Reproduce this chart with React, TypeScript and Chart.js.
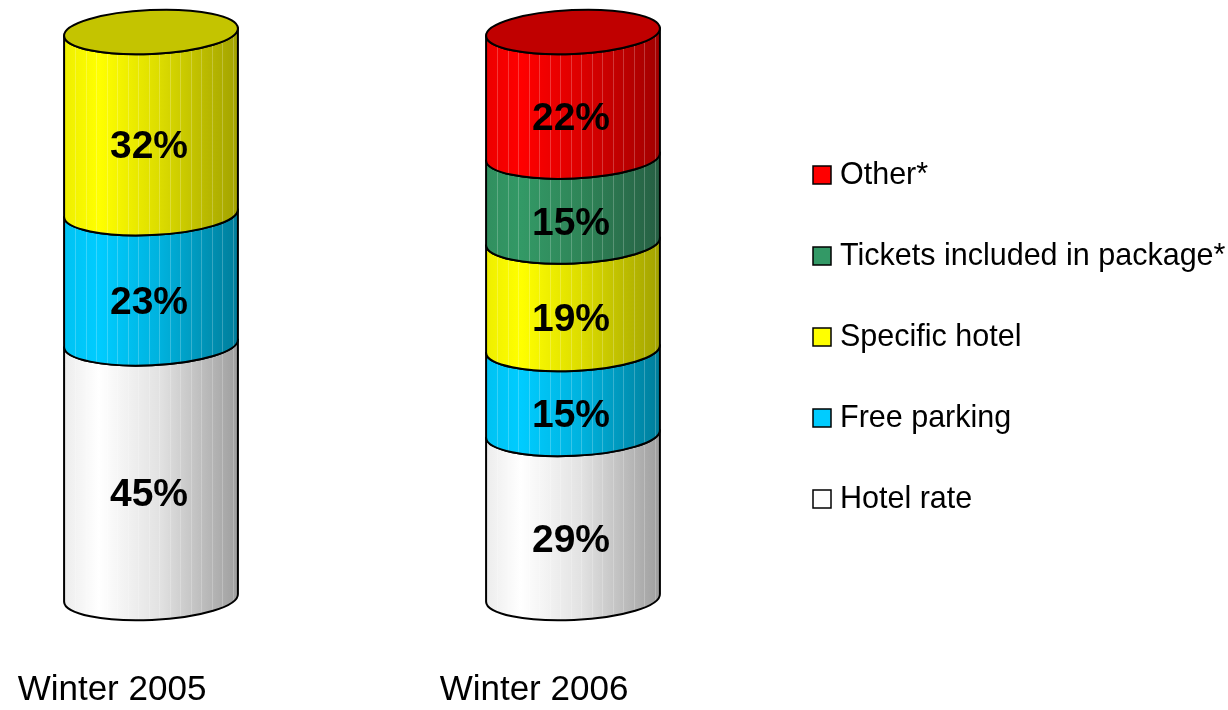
import React, { useEffect, useRef } from "react";
import { Chart, registerables } from "chart.js";

Chart.register(...registerables);

// ---- data ----
const categories = ["Winter 2005", "Winter 2006"];
const seriesNames = [
  "Hotel rate",
  "Free parking",
  "Specific hotel",
  "Tickets included in package*",
  "Other*",
];
const hotelRate = [45, 29];
const freeParking = [23, 15];
const specificHotel = [32, 19];
const ticketsIncluded = [0, 15];
const other = [0, 22];
const seriesValues = [hotelRate, freeParking, specificHotel, ticketsIncluded, other];

// ---- styles ----
const palette = [
  { swatch: "#ffffff", top: "#d8d8d8", stops: ["#ececec", "#ffffff", "#e2e2e2", "#9e9e9e"] },
  { swatch: "#00ccff", top: "#00a0c8", stops: ["#00c2f2", "#00ccff", "#00b2de", "#007d9a"] },
  { swatch: "#ffff00", top: "#c4c400", stops: ["#eeee00", "#ffff00", "#dcdc00", "#a2a200"] },
  { swatch: "#339966", top: "#2a7a52", stops: ["#318f5f", "#339966", "#2f8558", "#265f43"] },
  { swatch: "#ff0000", top: "#c00000", stops: ["#ec0000", "#ff0000", "#dc0000", "#a00000"] },
];
const STOP_POS = [0, 0.2, 0.55, 1];
const FONT = "'Liberation Sans', Arial, Helvetica, sans-serif";
const RY = 22;
const TILT = -0.045;

function segmentPath(ctx: CanvasRenderingContext2D, cx: number, rx: number, yT: number, yB: number) {
  const c = Math.cos(TILT);
  const s = Math.sin(TILT);
  ctx.beginPath();
  ctx.moveTo(cx - rx * c, yT - rx * s);
  ctx.lineTo(cx - rx * c, yB - rx * s);
  ctx.ellipse(cx, yB, rx, RY, TILT, Math.PI, 0, true);
  ctx.lineTo(cx + rx * c, yT + rx * s);
  ctx.ellipse(cx, yT, rx, RY, TILT, 0, Math.PI, false);
  ctx.closePath();
}

const cylinderPlugin = {
  id: "cylinders",
  afterDatasetsDraw(chart: any) {
    const ctx: CanvasRenderingContext2D = chart.ctx;
    const datasets = chart.data.datasets;
    const n = chart.data.labels.length;
    for (let j = 0; j < n; j++) {
      let topIdx = -1;
      datasets.forEach((ds: any, i: number) => {
        if (ds.data[j] > 0) topIdx = i;
      });
      const labels: { text: string; x: number; y: number }[] = [];
      let topGeom: any = null;
      for (let i = 0; i < datasets.length; i++) {
        const v = datasets[i].data[j];
        if (!v) continue;
        const el = chart.getDatasetMeta(i).data[j];
        const { x, y, base, width } = el.getProps(["x", "y", "base", "width"], true);
        const rx = width / 2;
        const pal = palette[i];
        ctx.save();
        segmentPath(ctx, x, rx, y, base);
        const g = ctx.createLinearGradient(x - rx, 0, x + rx, 0);
        pal.stops.forEach((col, k) => g.addColorStop(STOP_POS[k], col));
        ctx.fillStyle = g;
        ctx.fill();
        ctx.save();
        ctx.clip();
        ctx.strokeStyle = "rgba(255,255,255,0.22)";
        ctx.lineWidth = 1;
        for (let sx = x - rx + 11; sx < x + rx - 2; sx += 10.5) {
          ctx.beginPath();
          ctx.moveTo(Math.round(sx) + 0.5, y - RY - 10);
          ctx.lineTo(Math.round(sx) + 0.5, base + RY + 10);
          ctx.stroke();
        }
        ctx.restore();
        segmentPath(ctx, x, rx, y, base);
        ctx.strokeStyle = "#000";
        ctx.lineWidth = 2;
        ctx.lineJoin = "round";
        ctx.stroke();
        ctx.restore();
        labels.push({ text: v + "%", x: x - 2, y: (y + base) / 2 + RY + 3 });
        if (i === topIdx) topGeom = { x, y, rx, pal };
      }
      if (topGeom) {
        ctx.save();
        ctx.beginPath();
        ctx.ellipse(topGeom.x, topGeom.y, topGeom.rx, RY, TILT, 0, Math.PI * 2);
        ctx.fillStyle = topGeom.pal.top;
        ctx.fill();
        ctx.strokeStyle = "#000";
        ctx.lineWidth = 2;
        ctx.stroke();
        ctx.restore();
      }
      ctx.save();
      ctx.fillStyle = "#000";
      ctx.font = `bold 39px ${FONT}`;
      ctx.textAlign = "center";
      ctx.textBaseline = "middle";
      labels.forEach((l) => ctx.fillText(l.text, l.x, l.y));
      ctx.restore();
    }
  },
  afterDraw(chart: any) {
    const ctx: CanvasRenderingContext2D = chart.ctx;
    const datasets = chart.data.datasets;
    const boxX = 813;
    const textX = 840;
    const firstY = 175;
    const step = 81;
    const box = 18;
    ctx.save();
    ctx.font = `30.5px ${FONT}`;
    ctx.textBaseline = "middle";
    ctx.textAlign = "left";
    for (let r = 0; r < datasets.length; r++) {
      const i = datasets.length - 1 - r;
      const cy = firstY + r * step;
      ctx.fillStyle = palette[i].swatch;
      ctx.fillRect(boxX, cy - box / 2, box, box);
      ctx.strokeStyle = "#000";
      ctx.lineWidth = 1.5;
      ctx.strokeRect(boxX, cy - box / 2, box, box);
      ctx.fillStyle = "#000";
      ctx.fillText(datasets[i].label, textX, cy + 1);
    }
    ctx.restore();
  },
};

export default function App() {
  const canvasRef = useRef<HTMLCanvasElement | null>(null);
  useEffect(() => {
    if (!canvasRef.current) return;
    const chart = new Chart(canvasRef.current, {
      type: "bar",
      data: {
        labels: categories,
        datasets: seriesNames.map((name, i) => ({
          label: name,
          data: seriesValues[i],
          backgroundColor: "rgba(0,0,0,0)",
          borderWidth: 0,
          barThickness: 174,
          clip: false as any,
        })),
      },
      options: {
        animation: false,
        responsive: true,
        maintainAspectRatio: false,
        layout: { padding: { left: 151, right: 655, top: 32, bottom: 0 } },
        plugins: {
          legend: { display: false },
          tooltip: { enabled: false },
        },
        scales: {
          x: {
            type: "category",
            stacked: true,
            offset: false,
            grid: { display: false, drawTicks: true, tickLength: 72 },
            border: { display: false },
            ticks: {
              color: "#000",
              font: { size: 35, family: FONT, lineHeight: "40px" },
              padding: 0,
              labelOffset: -39,
              maxRotation: 0,
              autoSkip: false,
            },
          },
          y: {
            display: false,
            stacked: true,
            min: 0,
            max: 100,
          },
        },
      },
      plugins: [cylinderPlugin],
    });
    return () => chart.destroy();
  }, []);
  return (
    <div style={{ position: "fixed", left: 0, top: 0, width: 1228, height: 710, background: "#fff" }}>
      <canvas ref={canvasRef} />
    </div>
  );
}
